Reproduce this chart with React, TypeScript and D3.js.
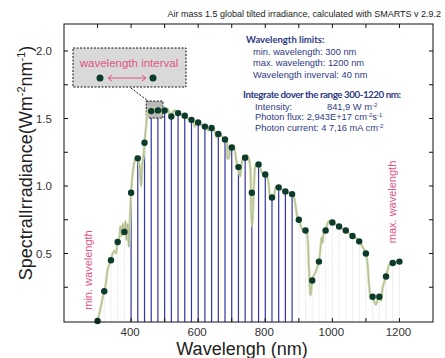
import React from "react";
import * as d3 from "d3";

// ---- data ----
const specLambda = [300,305,310,315,320,325,330,335,340,345,350,355,358,360,365,368,372,375,378,380,383,386,390,393,396,400,405,410,415,420,425,430,433,437,440,445,450,455,460,465,470,475,480,485,490,495,500,505,510,515,520,525,530,535,540,545,550,555,560,565,570,575,580,585,590,595,600,605,610,615,620,625,630,635,640,645,650,655,658,660,665,670,675,680,685,688,692,695,700,705,710,715,720,725,730,735,740,745,750,755,758,761,764,767,770,775,780,785,790,795,800,805,810,815,820,825,830,835,840,845,850,855,860,865,870,875,880,885,890,895,900,905,910,915,920,925,930,935,938,940,945,950,955,960,965,968,971,975,980,985,990,995,1000,1010,1020,1030,1040,1050,1060,1070,1080,1090,1100,1105,1110,1115,1120,1125,1130,1135,1140,1145,1150,1155,1160,1165,1170,1175,1180,1190,1200];
const specValue = [0.0,0.05,0.11,0.17,0.22,0.28,0.38,0.42,0.45,0.5,0.52,0.5,0.56,0.585,0.62,0.7,0.63,0.72,0.64,0.66,0.74,0.6,0.72,0.55,0.72,0.95,1.1,1.18,1.22,1.205,1.15,1.0,1.15,1.22,1.32,1.45,1.55,1.57,1.555,1.57,1.58,1.56,1.56,1.53,1.57,1.58,1.56,1.55,1.57,1.53,1.515,1.55,1.56,1.55,1.54,1.54,1.53,1.52,1.52,1.51,1.5,1.5,1.49,1.48,1.44,1.47,1.47,1.46,1.45,1.45,1.44,1.43,1.41,1.43,1.43,1.42,1.4,1.36,1.4,1.385,1.39,1.37,1.35,1.345,1.33,1.2,1.21,1.27,1.285,1.3,1.25,1.17,1.14,1.07,1.17,1.22,1.21,1.23,1.21,1.15,0.8,0.7,0.85,1.05,1.14,1.17,1.16,1.13,1.1,1.09,1.085,1.07,1.02,0.92,0.915,0.92,0.98,1.0,0.99,0.97,0.975,0.965,0.96,0.955,0.95,0.945,0.94,0.92,0.86,0.78,0.75,0.71,0.68,0.66,0.67,0.64,0.4,0.19,0.25,0.3,0.34,0.36,0.4,0.44,0.55,0.62,0.58,0.66,0.67,0.72,0.74,0.74,0.73,0.715,0.7,0.685,0.67,0.65,0.63,0.615,0.59,0.55,0.5,0.42,0.25,0.17,0.18,0.14,0.12,0.16,0.18,0.15,0.25,0.29,0.33,0.38,0.42,0.43,0.43,0.435,0.44];

const dotLambda = [300,320,340,360,380,400,420,440,460,480,500,520,540,560,580,600,620,640,660,680,700,720,740,760,780,800,820,840,860,880,900,920,940,960,980,1000,1020,1040,1060,1080,1100,1120,1140,1160,1180,1200];
const dotValue = [0.0,0.22,0.45,0.585,0.66,0.95,1.205,1.32,1.555,1.56,1.56,1.515,1.54,1.52,1.49,1.47,1.44,1.43,1.385,1.345,1.285,1.14,1.21,0.95,1.16,1.085,0.915,0.99,0.96,0.94,0.75,0.67,0.3,0.44,0.67,0.73,0.7,0.67,0.63,0.59,0.5,0.18,0.18,0.33,0.43,0.44];

const integrationStart = 400;
const integrationEnd = 880;

const xTicks = [300,400,500,600,700,800,900,1000,1100,1200];
const xTickLabels = [400,600,800,1000,1200];
const yTicks = [0.25,0.5,0.75,1.0,1.25,1.5,1.75,2.0];
const yTickLabels = [0.5,1.0,1.5,2.0];

const PINK = "#e0557f";
const NAVY = "#2f3a85";
const DOT = "#0c3b2c";

export default function App() {
  const left = 64, right = 433, top = 24, bottom = 322;
  const x = d3.scaleLinear().domain([200, 1300]).range([left, right]);
  const y = d3.scaleLinear().domain([0, 2.2]).range([321, top]);

  const pts = specLambda.map((l, i) => [l, specValue[i]] as [number, number]);
  const line = d3.line<[number, number]>().x(d => x(d[0])).y(d => y(d[1])).curve(d3.curveCatmullRom.alpha(0.5));
  const path = line(pts) || "";

  const font = "'Liberation Sans', Arial, sans-serif";
  const tickLen = 4;

  return (
    <div style={{ position: "absolute", left: 0, top: 0 }}>
      <svg width={445} height={358} style={{ display: "block", background: "#fff" }}>
        {/* title */}
        <text x={441} y={17} textAnchor="end" fontFamily={font} fontSize={9} fill="#222">
          Air mass 1.5 global tilted irradiance, calculated with SMARTS v 2.9.2
        </text>

        {/* faint stems */}
        {dotLambda.map((l, i) => (
          (l < integrationStart || l > integrationEnd) ? (
            <line key={"g" + i} x1={x(l)} x2={x(l)} y1={bottom} y2={y(dotValue[i])} stroke="#e8e8e8" strokeWidth={0.7} />
          ) : null
        ))}
        {/* blue stems */}
        {dotLambda.map((l, i) => (
          (l >= integrationStart && l <= integrationEnd) ? (
            <line key={"b" + i} x1={x(l)} x2={x(l)} y1={bottom} y2={y(dotValue[i])} stroke="#3133a6" strokeWidth={1.2} />
          ) : null
        ))}

        {/* highlight small box */}
        <rect x={x(460) - 5} y={y(1.555) - 10} width={x(480) - x(460) + 10} height={17} fill="#b9b9b9" stroke="#111" strokeWidth={1} strokeDasharray="2,1.5" />

        {/* spectrum line */}
        <path d={path} fill="none" stroke="#d3dcae" strokeWidth={2.6} strokeLinejoin="round" />
        <path d={path} fill="none" stroke="#a0ad8c" strokeWidth={0.7} strokeLinejoin="round" />

        {/* dots */}
        {dotLambda.map((l, i) => (
          <circle key={"d" + i} cx={x(l)} cy={y(dotValue[i])} r={3.2} fill={DOT} />
        ))}

        {/* frame */}
        <rect x={left} y={top} width={right - left} height={bottom - top} fill="none" stroke="#111" strokeWidth={1} />
        {xTicks.map(t => (
          <g key={"xt" + t}>
            <line x1={x(t)} x2={x(t)} y1={bottom} y2={bottom - tickLen} stroke="#111" strokeWidth={1} />
            <line x1={x(t)} x2={x(t)} y1={top} y2={top + tickLen} stroke="#111" strokeWidth={1} />
          </g>
        ))}
        {yTicks.map(t => (
          <g key={"yt" + t}>
            <line x1={left} x2={left + tickLen} y1={y(t)} y2={y(t)} stroke="#111" strokeWidth={1} />
            <line x1={right} x2={right - tickLen} y1={y(t)} y2={y(t)} stroke="#111" strokeWidth={1} />
          </g>
        ))}
        {xTickLabels.map(t => (
          <text key={"xl" + t} x={x(t) - 1} y={336} textAnchor="middle" fontFamily={font} fontSize={11.5} fill="#333">{t}</text>
        ))}
        {yTickLabels.map(t => (
          <text key={"yl" + t} x={52} y={y(t) + 4} textAnchor="end" fontFamily={font} fontSize={11.5} fill="#333">{d3.format(".1f")(t)}</text>
        ))}

        {/* axis titles */}
        <text x={242} y={355} textAnchor="middle" fontFamily={font} fontSize={18} fill="#222">Wavelengh (nm)</text>
        <text transform="translate(32,163) rotate(-90)" textAnchor="middle" fontFamily={font} fontSize={18} fill="#222">
          SpectralIrradiance(Wm<tspan fontSize={11} dy={-7}>-2</tspan><tspan dy={7}>nm</tspan><tspan fontSize={11} dy={-7}>-1</tspan><tspan dy={7}>)</tspan>
        </text>

        {/* pink rotated labels */}
        <text transform="translate(92,270) rotate(-90)" textAnchor="middle" fontFamily={font} fontSize={11} fill={PINK}>min. wavelength</text>
        <text transform="translate(396,202) rotate(-90)" textAnchor="middle" fontFamily={font} fontSize={11} fill={PINK}>max. wavelength</text>

        {/* inset callout */}
        <line x1={131} y1={88} x2={x(460) - 3} y2={y(1.555) - 10} stroke="#111" strokeWidth={1} strokeDasharray="2,1.5" />
        <rect x={73} y={48} width={113} height={39} fill="#d9d9d9" stroke="#111" strokeWidth={1} strokeDasharray="2,1.5" />
        <text x={129} y={67} textAnchor="middle" fontFamily={font} fontSize={11.5} fill={PINK}>wavelength interval</text>
        <circle cx={100} cy={78} r={3.5} fill={DOT} />
        <circle cx={153} cy={78} r={3.5} fill={DOT} />
        <line x1={108} x2={146} y1={78} y2={78} stroke={PINK} strokeWidth={1} />
        <path d="M112,75 L108,78 L112,81 M142,75 L146,78 L142,81" fill="none" stroke={PINK} strokeWidth={1} />

        {/* annotation block */}
        <g fontFamily={font} fontSize={9.3} fill={NAVY}>
          <text x={246} y={43} fontFamily="Lato, sans-serif" fontWeight="bold" fontSize={9.5}>Wavelength limits:</text>
          <text x={253} y={54.5}>min. wavelength: 300 nm</text>
          <text x={253} y={66}>max. wavelength: 1200 nm</text>
          <text x={253} y={77.5}>Wavelength inverval: 40 nm</text>
          <text x={243} y={97.5} fontFamily="Lato, sans-serif" fontWeight="bold" fontSize={9.8} letterSpacing={-0.45}>Integrate dover the range 300-1220 nm:</text>
          <text x={255} y={109.5}>Intensity:</text>
          <text x={327} y={109.5}>841,9 W m<tspan fontSize={6} dy={-3}>-2</tspan></text>
          <text x={255} y={119.5}>Photon flux: 2,943E+17 cm<tspan fontSize={6} dy={-3}>-2</tspan><tspan dy={3}>s</tspan><tspan fontSize={6} dy={-3}>-1</tspan></text>
          <text x={255} y={130.5}>Photon current:  4 7,16 mA cm<tspan fontSize={6} dy={-3}>-2</tspan></text>
        </g>
      </svg>
    </div>
  );
}
